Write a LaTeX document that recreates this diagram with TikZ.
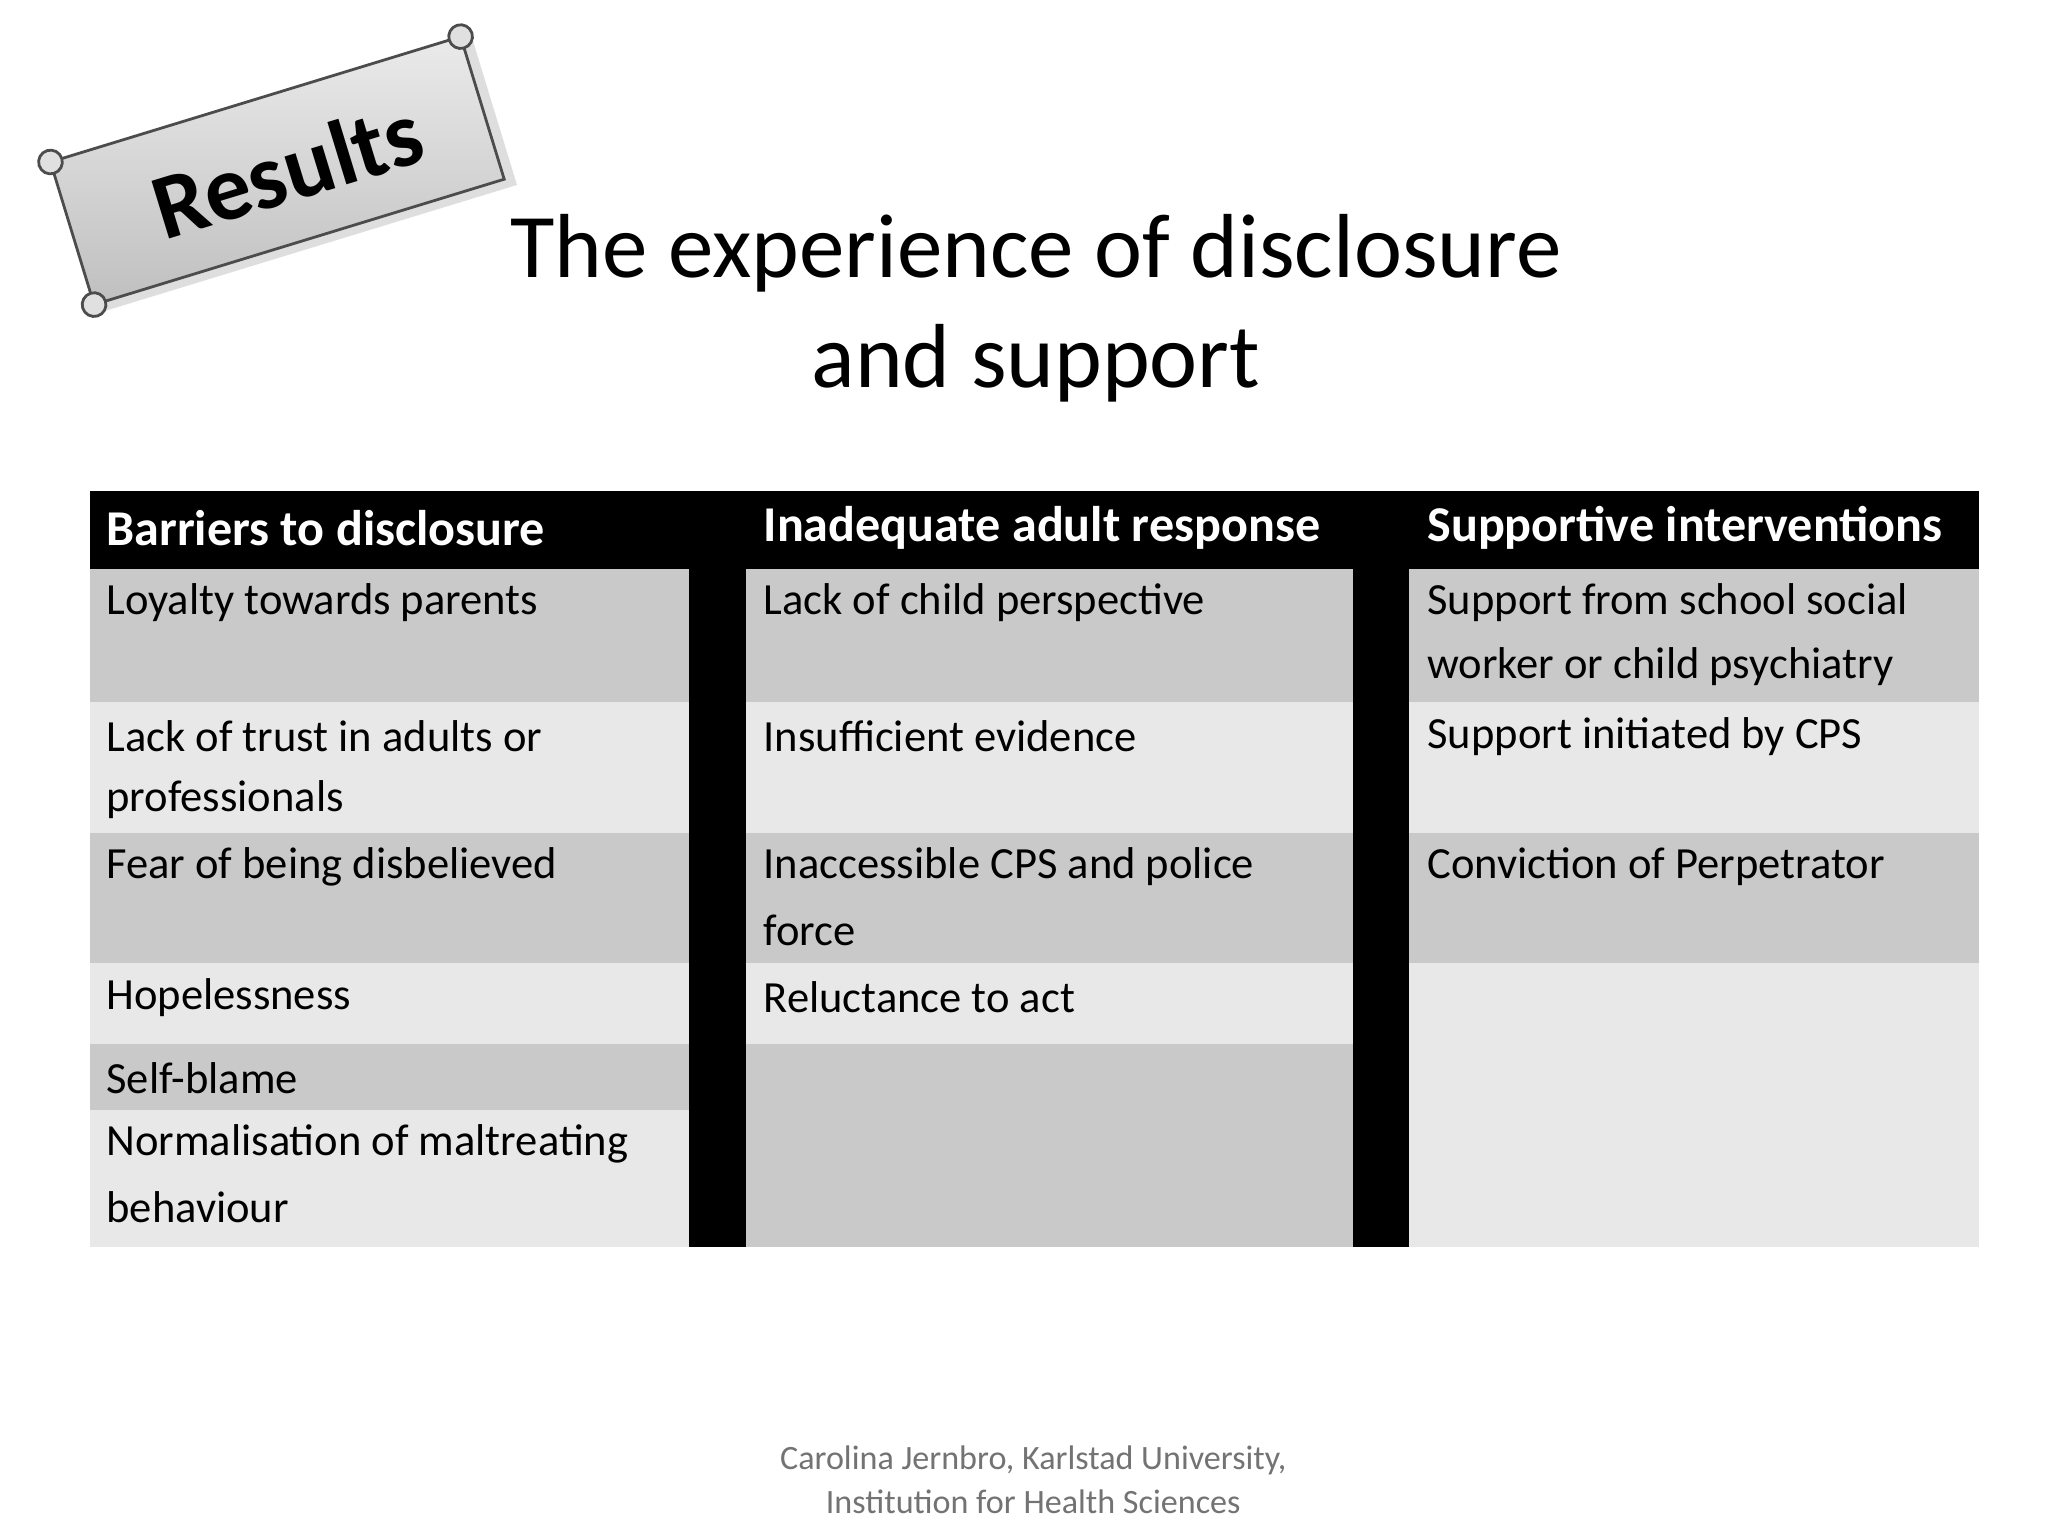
\documentclass[tikz,border=0pt]{standalone}
\usepackage{fontspec}
\setmainfont{Carlito}
\begin{document}
\begin{tikzpicture}[x=0.01cm,y=-0.01cm,
 cell/.style={anchor=west,font=\fontsize{9.6pt}{13.6pt}\selectfont,inner sep=0pt},
 head/.style={anchor=west,font=\fontsize{10.8pt}{12pt}\selectfont\bfseries,text=white,inner sep=0pt},
 dk/.style={fill=black!21},lt/.style={fill=black!9}]
\useasboundingbox (0,0) rectangle (1552,1164);
\fill[white] (0,0) rectangle (1552,1164);
% scroll
\begin{scope}[shift={(213,130)},rotate=17]
 \fill[black!25,opacity=0.5] (-158,-52) rectangle (168,62);
 \shade[top color=black!8,bottom color=black!25,draw=black!70,line width=0.6pt] (-165,-58) rectangle (160,55);
 \draw[black!70,line width=0.6pt,fill=black!12] (160,-58) circle (9);
 \draw[black!70,line width=0.6pt,fill=black!12] (-165,-58) circle (9);
 \draw[black!70,line width=0.6pt,fill=black!12] (-165,55) circle (9);
 \node[rotate=17] (res) at (5,0) {\fontsize{20pt}{21pt}\selectfont\bfseries Results};
\end{scope}
\node (t1) at (785,192) {\fontsize{19.6pt}{22pt}\selectfont The experience of disclosure};
\node (t2) at (785,275) {\fontsize{19.6pt}{22pt}\selectfont and support};
% table
\fill[black] (68,372) rectangle (1500,431);
\fill[black] (522,372) rectangle (565,945);
\fill[black] (1025,372) rectangle (1068,945);
\fill[dk] (68,431) rectangle (522,532); \fill[lt] (68,532) rectangle (522,631);
\fill[dk] (68,631) rectangle (522,730); \fill[lt] (68,730) rectangle (522,791);
\fill[dk] (68,791) rectangle (522,841); \fill[lt] (68,841) rectangle (522,945);
\fill[dk] (565,431) rectangle (1025,532); \fill[lt] (565,532) rectangle (1025,631);
\fill[dk] (565,631) rectangle (1025,730); \fill[lt] (565,730) rectangle (1025,791);
\fill[dk] (565,791) rectangle (1025,945);
\fill[dk] (1068,431) rectangle (1500,532); \fill[lt] (1068,532) rectangle (1500,631);
\fill[dk] (1068,631) rectangle (1500,730); \fill[lt] (1068,730) rectangle (1500,945);
\node[head] (h1) at (80,400) {Barriers to disclosure};
\node[head] (h2) at (578,400) {Inadequate adult response};
\node[head] (h3) at (1081,400) {Supportive interventions};
\node[cell] (a1) at (80,457) {Loyalty towards parents};
\node[cell] (a2) at (80,558) {Lack of trust in adults or};
\node[cell] (a2b) at (80,606) {professionals};
\node[cell] (a3) at (80,657) {Fear of being disbelieved};
\node[cell] (a4) at (80,756) {Hopelessness};
\node[cell] (a5) at (80,817) {Self-blame};
\node[cell] (a6) at (80,867) {Normalisation of maltreating};
\node[cell] (a6b) at (80,915) {behaviour};
\node[cell] (b1) at (578,457) {Lack of child perspective};
\node[cell] (b2) at (578,558) {Insufficient evidence};
\node[cell] (b3) at (578,657) {Inaccessible CPS and police};
\node[cell] (b3b) at (578,705) {force};
\node[cell] (b4) at (578,756) {Reluctance to act};
\node[cell] (c1) at (1081,457) {Support from school social};
\node[cell] (c1b) at (1081,505) {worker or child psychiatry};
\node[cell] (c2) at (1081,558) {Support initiated by CPS};
\node[cell] (c3) at (1081,657) {Conviction of Perpetrator};
\node[text=black!55,font=\fontsize{7.35pt}{8pt}\selectfont] (f1) at (783,1107) {Carolina Jernbro, Karlstad University,};
\node[text=black!55,font=\fontsize{7.35pt}{8pt}\selectfont] (f2) at (783,1138) {Institution for Health Sciences};
\end{tikzpicture}
\end{document}
